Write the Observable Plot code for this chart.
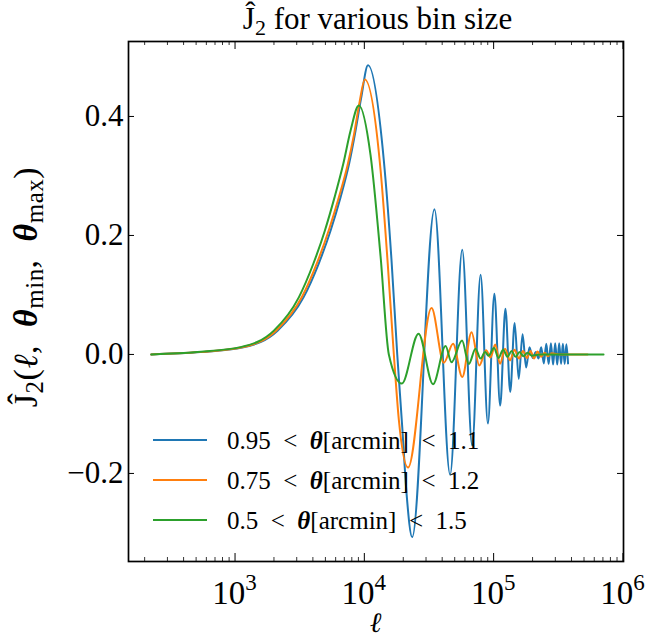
<!DOCTYPE html>
<html><head><meta charset="utf-8">
<script src="https://cdn.jsdelivr.net/npm/d3@7"></script>
<script src="https://cdn.jsdelivr.net/npm/@observablehq/plot@0.6"></script>
<style>
body{margin:0;background:#fff;}
svg{display:block;}
svg text{white-space:pre; font-family:"Liberation Serif","Times New Roman","DejaVu Serif",serif !important;}
</style>
</head><body><div id="chart"></div>
<script>
// ---- data ----
const ellBlue = [225, 541, 1163, 2132, 3386, 4424, 5477, 6543, 7616, 8548, 9430, 10680, 14150, 16230, 17970, 19640, 21210, 23450, 34860, 46060, 57170, 68240, 79280, 90310, 101330, 112350, 123360, 134360, 145370, 156370, 167360, 178360, 189360, 200350, 211350, 222340, 233330, 244320, 255310, 266300, 277290, 288280, 299270, 310260, 321250, 332240, 343220, 354210, 365200, 376180];
const jBlue = [0, 0.004, 0.012, 0.040, 0.096, 0.152, 0.208, 0.264, 0.320, 0.376, 0.430, 0.486, 0.326, 0.158, 0.0, -0.122, -0.234, -0.307, 0.244, -0.202, 0.176, -0.153, 0.134, -0.116, 0.102, -0.086, 0.077, -0.063, 0.053, -0.041, 0.034, -0.022, 0.012, -0.006, 0.004, -0.007, 0.012, -0.015, 0.018, -0.016, 0.019, -0.017, 0.019, -0.017, 0.019, -0.016, 0.018, -0.016, 0.017, -0.015];

const ellOrange = [225, 527, 1132, 2076, 3297, 4308, 5333, 6371, 7416, 8324, 9200, 10090, 13350, 15200, 16910, 18490, 21780, 33090, 41190, 48530, 57180, 67470, 77510, 87340, 94620, 102900, 112080, 122500, 133900, 145100, 157200, 168800, 181300, 192900, 205300, 218500, 232600, 247600, 263500, 280400, 329200, 532300];
const jOrange = [0, 0.004, 0.012, 0.040, 0.097, 0.154, 0.210, 0.265, 0.318, 0.370, 0.425, 0.462, 0.310, 0.150, 0.0, -0.110, -0.190, 0.078, -0.014, 0.018, -0.038, 0.0375, -0.0185, 0.007, -0.005, 0.0168, -0.0157, 0.0096, -0.010, 0.008, -0.007, 0.006, -0.006, 0.006, -0.007, 0.005, -0.004, 0.003, -0.003, 0.002, 0.0, 0.0];

const ellGreen = [225, 510, 1103, 1996, 3114, 4025, 4949, 5882, 6867, 7822, 9068, 11170, 13350, 15470, 19500, 26260, 33990, 42460, 47250, 56960, 64300, 72440, 79190, 85800, 91330, 100700, 109100, 118200, 128100, 137500, 147700, 158600, 170300, 182900, 196400, 230500, 707900];
const jGreen = [0, 0.004, 0.0123, 0.040, 0.096, 0.152, 0.208, 0.264, 0.320, 0.376, 0.4185, 0.335, 0.165, 0.0, -0.049, 0.035, -0.050, 0.014, -0.013, 0.0235, -0.016, 0.0096, -0.007, 0.004, -0.002, 0.011, -0.006, 0.008, -0.004, 0.006, -0.004, 0.004, -0.003, 0.003, -0.002, 0.0, 0.0];

const legendLow = ["0.95", "0.75", "0.5"];
const legendHigh = ["1.1", "1.2", "1.5"];
const colors = ["#1f77b4", "#ff7f0e", "#2ca02c"];
const xTicks = [1e3, 1e4, 1e5, 1e6];
const xTickExp = ["3", "4", "5", "6"];
const yTicks = [-0.2, 0.0, 0.2, 0.4];

// ---- build ----
const FONT = "Liberation Serif";
const W = 646, H = 637, mL = 128, mR = 23, mT = 41, mB = 76;
const iw = W - mL - mR, ih = H - mT - mB;
const xDomain = [150, 1.01e6];
const minor = [];
for (let k = 2; k <= 5; k++) for (let m = 2; m <= 9; m++) {
  const v = m * Math.pow(10, k);
  if (v > xDomain[0] && v < xDomain[1]) minor.push(v);
}
const series = [[ellBlue, jBlue], [ellOrange, jOrange], [ellGreen, jGreen]]
  .map(([L, J]) => L.map((l, i) => ({ell: l, j: J[i]})));

const plot = Plot.plot({
  width: W, height: H, marginLeft: mL, marginRight: mR, marginTop: mT, marginBottom: mB,
  style: {fontFamily: FONT, background: "white", color: "black"},
  x: {type: "log", domain: xDomain, axis: null},
  y: {domain: [-0.348, 0.526]},
  marks: [
    ...series.map((d, i) => Plot.line(d, {x: "ell", y: "j", stroke: colors[i], strokeWidth: 2, curve: "monotone-x"})),
    Plot.tickX(xTicks, {x: d => d, insetTop: ih - 8, stroke: "black", strokeWidth: 1}),
    Plot.tickX(xTicks, {x: d => d, insetBottom: ih - 8, stroke: "black", strokeWidth: 1}),
    Plot.tickX(minor, {x: d => d, insetTop: ih - 4, stroke: "black", strokeWidth: 0.8}),
    Plot.tickX(minor, {x: d => d, insetBottom: ih - 4, stroke: "black", strokeWidth: 0.8}),
    Plot.tickY(yTicks, {y: d => d, insetRight: iw - 6, stroke: "black", strokeWidth: 1}),
    Plot.tickY(yTicks, {y: d => d, insetLeft: iw - 6, stroke: "black", strokeWidth: 1}),
    Plot.axisY({ticks: yTicks, tickFormat: d3.format(".1f"), tickSize: 0, tickPadding: 5, fontSize: 31, label: null}),
    Plot.frame({stroke: "black", strokeWidth: 1.7})
  ]
});
document.getElementById("chart").appendChild(plot);

const svg = d3.select(plot);
const sx = plot.scale("x");
const g = svg.append("g").attr("fill", "black").attr("text-anchor", "start");

// x tick labels 10^k
xTicks.forEach((v, i) => {
  const t = g.append("text").attr("x", sx.apply(v)).attr("y", 604)
    .attr("text-anchor", "middle").attr("font-size", 33);
  t.append("tspan").text("10");
  t.append("tspan").attr("dy", -14).attr("font-size", 23).text(xTickExp[i]);
});

// x label
g.append("text").attr("x", (mL + W - mR) / 2).attr("y", 632).attr("text-anchor", "middle")
  .attr("font-size", 28).attr("font-style", "italic").text("ℓ");

// title
const tt = g.append("text").attr("x", (mL + W - mR) / 2 + 2).attr("y", 29).attr("text-anchor", "middle").attr("font-size", 31);
tt.append("tspan").text("Ĵ");
tt.append("tspan").attr("font-size", 22).attr("dy", 6).text("2");
tt.append("tspan").attr("dy", -6).text(" for various bin size");

// y label
const yl = g.append("text").attr("transform", "translate(37,287) rotate(-90)").attr("text-anchor", "middle")
  .attr("font-size", 34).attr("letter-spacing", 0.5);
yl.append("tspan").text("Ĵ");
yl.append("tspan").attr("font-size", 25).attr("dy", 6).text("2");
yl.append("tspan").attr("dy", -6).text("(");
yl.append("tspan").attr("font-style", "italic").text("ℓ");
yl.append("tspan").text(",  ");
yl.append("tspan").attr("font-style", "italic").attr("font-weight", "bold").text("θ");
yl.append("tspan").attr("font-size", 25).attr("dy", 6).text("min");
yl.append("tspan").attr("dy", -6).text(",  ");
yl.append("tspan").attr("font-style", "italic").attr("font-weight", "bold").text("θ");
yl.append("tspan").attr("font-size", 25).attr("dy", 6).text("max");
yl.append("tspan").attr("dy", -6).text(")");

// legend
const legY = [440, 480, 520];
legendLow.forEach((lo, i) => {
  g.append("line").attr("x1", 153).attr("x2", 207).attr("y1", legY[i]).attr("y2", legY[i])
    .attr("stroke", colors[i]).attr("stroke-width", 2);
  const t = g.append("text").attr("x", 227).attr("y", legY[i] + 9).attr("font-size", 25).attr("text-anchor", "start");
  t.append("tspan").text(lo + "  <  ");
  t.append("tspan").attr("font-style", "italic").attr("font-weight", "bold").text("θ");
  t.append("tspan").text("[arcmin]  <  " + legendHigh[i]);
});
</script>
</body></html>
